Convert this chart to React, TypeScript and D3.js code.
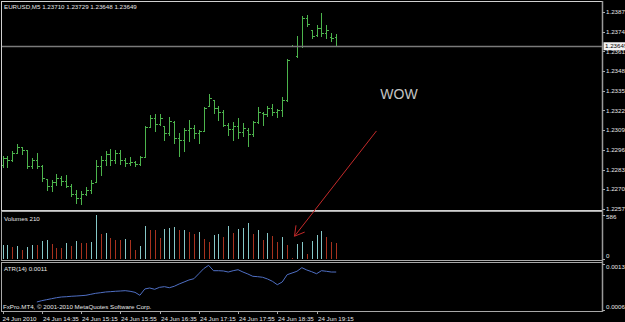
import React from "react";
import * as d3 from "d3";

const openP = [1.22865,1.22912,1.22898,1.22945,1.22984,1.22964,1.22859,1.22898,1.22859,1.22773,
 1.22727,1.22753,1.22780,1.22760,1.22727,1.22674,1.22648,1.22674,1.22700,1.22753,
 1.22859,1.22898,1.22938,1.22898,1.22945,1.22898,1.22879,1.22885,1.22872,1.22918,
 1.23116,1.23176,1.23136,1.23123,1.23077,1.23149,1.23044,1.23030,1.23096,1.23110,
 1.23077,1.23090,1.23255,1.23294,1.23242,1.23215,1.23129,1.23103,1.23123,1.23083,
 1.23096,1.23070,1.23149,1.23209,1.23202,1.23242,1.23215,1.23228,1.23294,1.23651,
 1.23585,1.23651,1.23836,1.23756,1.23723,1.23770,1.23737,1.23710,1.23710];
const highP = [1.22922,1.22925,1.22955,1.23007,1.22984,1.22964,1.22912,1.22945,1.22865,1.22776,
 1.22766,1.22809,1.22790,1.22799,1.22740,1.22700,1.22694,1.22717,1.22766,1.22898,
 1.22922,1.22961,1.22971,1.22964,1.22964,1.22912,1.22918,1.22889,1.22922,1.23123,
 1.23195,1.23205,1.23199,1.23123,1.23182,1.23153,1.23077,1.23110,1.23162,1.23129,
 1.23096,1.23248,1.23337,1.23294,1.23252,1.23228,1.23143,1.23149,1.23176,1.23143,
 1.23110,1.23156,1.23248,1.23212,1.23252,1.23268,1.23235,1.23311,1.23565,1.23654,
 1.23717,1.23846,1.23855,1.23756,1.23789,1.23869,1.23789,1.23737,1.23729];
const lowP = [1.22852,1.22852,1.22889,1.22945,1.22938,1.22846,1.22846,1.22846,1.22763,1.22700,
 1.22691,1.22733,1.22733,1.22717,1.22658,1.22615,1.22608,1.22667,1.22681,1.22753,
 1.22799,1.22865,1.22865,1.22879,1.22872,1.22856,1.22865,1.22856,1.22865,1.22918,
 1.23116,1.23087,1.23129,1.23030,1.23063,1.23011,1.22922,1.22955,1.23021,1.23044,
 1.23011,1.23087,1.23252,1.23209,1.23162,1.23120,1.23063,1.23030,1.23044,1.23054,
 1.22988,1.23054,1.23143,1.23129,1.23186,1.23195,1.23182,1.23186,1.23285,1.23648,
 1.23578,1.23644,1.23783,1.23704,1.23714,1.23714,1.23704,1.23681,1.23648];
const closeP = [1.22912,1.22898,1.22945,1.22984,1.22964,1.22859,1.22898,1.22859,1.22780,1.22727,
 1.22753,1.22780,1.22760,1.22727,1.22674,1.22648,1.22674,1.22700,1.22747,1.22859,
 1.22898,1.22938,1.22898,1.22945,1.22898,1.22879,1.22885,1.22872,1.22918,1.23116,
 1.23176,1.23136,1.23176,1.23077,1.23156,1.23044,1.23030,1.23096,1.23110,1.23077,
 1.23090,1.23242,1.23308,1.23242,1.23215,1.23129,1.23103,1.23123,1.23083,1.23110,
 1.23070,1.23149,1.23215,1.23202,1.23242,1.23215,1.23228,1.23294,1.23558,1.23651,
 1.23651,1.23836,1.23796,1.23717,1.23770,1.23737,1.23756,1.23704,1.23649];
const volumes = [177,180,154,166,118,154,181,178,231,245,
 200,145,136,204,168,231,213,208,218,586,
 336,344,276,254,250,268,254,109,163,440,
 384,378,281,404,413,426,381,390,354,326,
 358,258,227,313,326,290,435,344,404,410,
 480,336,390,245,344,308,218,290,177,5,
 200,222,55,230,322,371,290,222,210];
const atr: (number | null)[] = [null,null,null,null,null,null,null,
 0.000672,0.000692,0.000707,0.000722,0.000737,0.000748,0.000752,0.000759,0.000763,0.000768,
 0.000774,0.000789,0.000804,0.000813,0.000824,0.000829,0.000835,0.000839,0.000844,0.000835,
 0.000819,0.000774,0.000870,0.000885,0.000865,0.000895,0.000905,0.000889,0.000911,0.000946,
 0.000976,0.001007,0.001026,0.001102,0.001179,0.001230,0.001148,0.001148,0.001144,0.001128,
 0.001148,0.001163,0.001128,0.001098,0.001063,0.001057,0.001048,0.001022,0.000987,0.000935,
 0.000976,0.001087,0.001113,0.001139,0.001194,0.001159,0.001133,0.001102,0.001148,0.001139,
 0.001128,0.001128];
const priceTicks = [1.22575,1.22705,1.22835,1.22965,1.23095,1.23225,1.23355,1.23485,1.23615,1.23745,1.23875];
const timeLabels = ["24 Jun 2010","24 Jun 14:35","24 Jun 15:15","24 Jun 15:55","24 Jun 16:35","24 Jun 17:15","24 Jun 17:55","24 Jun 18:35","24 Jun 19:15"];
const timeLabelStep = 8;
const volumeTicks = [0, 586];
const volumeTickLabels = ["0", "586"];
const atrTicks = [0.00055, 0.00125];
const atrTickLabels = ["0.0006", "0.0013"];
const bidPrice = 1.23649;
const titleText = "EURUSD,M5  1.23710 1.23729 1.23648 1.23649";
const volumeTitle = "Volumes 210";
const atrTitle = "ATR(14) 0.0011";
const copyright = "FxPro.MT4, \u00a9 2001-2010 MetaQuotes Software Corp.";

const W = 625, H = 322;
const FONT = "'Liberation Sans', Arial, sans-serif";
const FS = 6.2;
const TXT = "#e6e6e6";
const BORDER = "#a8a8a8";

export default function App() {
  const n = openP.length;
  const x = d3.scaleLinear().domain([0, n - 1]).range([2.5, 336.2]);
  const yP = d3.scaleLinear().domain([1.22575, 1.23875]).range([209, 12]);
  const yV = d3.scaleLinear().domain([0, 586]).range([258.5, 215]);
  const yA = d3.scaleLinear().domain([0.00055, 0.00125]).range([310, 264]);
  const px = (i: number) => Math.round(x(i)) + 0.5;
  const r = (v: number) => Math.round(v) + 0.5;

  const atrLine = d3.line<number | null>()
    .defined((d) => d != null)
    .x((_, i) => x(i))
    .y((d) => yA(d as number));

  const tail: [number, number] = [x(76.2), yP(1.2309)];
  const tip: [number, number] = [x(59.5), yV(300)];
  const dx = tail[0] - tip[0], dy = tail[1] - tip[1];
  const len = Math.hypot(dx, dy);
  const ux = dx / len, uy = dy / len;
  const rot = (a: number) => [ux * Math.cos(a) - uy * Math.sin(a), ux * Math.sin(a) + uy * Math.cos(a)];
  const b1 = rot(Math.PI / 6), b2 = rot(-Math.PI / 6);
  const hl = 11;

  const volColor = (i: number) => (i === 0 || volumes[i] > volumes[i - 1] ? "#86c8c8" : "#a8321f");

  return (
    <div style={{ position: "fixed", left: 0, top: 0, width: W, height: H, background: "#000" }}>
      <svg width={W} height={H} style={{ display: "block" }} fontFamily={FONT}>
        <rect x={0} y={0} width={W} height={H} fill="#000" />
        <g shapeRendering="crispEdges" fill="none" stroke={BORDER}>
          <rect x={1.5} y={1.5} width={600.5} height={208.5} stroke="#d0d0d0" />
          <rect x={1.5} y={211.5} width={600.5} height={48.5} />
          <rect x={1.5} y={262.5} width={600.5} height={48.5} />
        </g>
        <line x1={602.5} x2={602.5} y1={1} y2={312} stroke="#9a9a9a" strokeWidth={1.5} />

        <g stroke="#4cb44c" strokeWidth={1} shapeRendering="crispEdges">
          {openP.map((o, i) => {
            const cx = px(i);
            return (
              <g key={i}>
                <line x1={cx} x2={cx} y1={Math.round(yP(highP[i]))} y2={Math.round(yP(lowP[i])) + 1} />
                <line x1={cx - 2} x2={cx} y1={r(yP(o))} y2={r(yP(o))} />
                <line x1={cx} x2={cx + 2} y1={r(yP(closeP[i]))} y2={r(yP(closeP[i]))} />
              </g>
            );
          })}
        </g>
        <line x1={2} x2={602} y1={r(yP(bidPrice))} y2={r(yP(bidPrice))} stroke="#7a7a7a" strokeWidth={1.5} />

        {priceTicks.map((p) => (
          <g key={p}>
            <line x1={602} x2={605} y1={r(yP(p))} y2={r(yP(p))} stroke={BORDER} />
            <text x={606} y={yP(p)} dy="0.35em" fontSize={FS} fill={TXT}>{p.toFixed(5)}</text>
          </g>
        ))}
        <rect x={603.5} y={yP(bidPrice) - 4} width={24} height={8} fill="#f2f2f2" />
        <text x={605} y={yP(bidPrice)} dy="0.35em" fontSize={FS} fill="#000">{bidPrice.toFixed(5)}</text>

        <g shapeRendering="crispEdges">
          {volumes.map((v, i) => (
            <line key={i} x1={px(i)} x2={px(i)} y1={yV(v)} y2={yV(0)} stroke={volColor(i)} strokeWidth={1} />
          ))}
        </g>
        {volumeTicks.map((t, k) => (
          <g key={t}>
            <line x1={602} x2={605} y1={r(yV(t))} y2={r(yV(t))} stroke={BORDER} />
            <text x={606} y={yV(t)} dy={k === 0 ? "-0.1em" : "0.7em"} fontSize={FS} fill={TXT}>{volumeTickLabels[k]}</text>
          </g>
        ))}

        <path d={atrLine(atr) || ""} fill="none" stroke="#4f6fc4" strokeWidth={1} />
        {atrTicks.map((t, k) => (
          <g key={t}>
            <line x1={602} x2={605} y1={r(yA(t))} y2={r(yA(t))} stroke={BORDER} />
            <text x={606} y={yA(t)} dy={k === 0 ? "-0.2em" : "0.8em"} fontSize={FS} fill={TXT}>{atrTickLabels[k]}</text>
          </g>
        ))}

        {timeLabels.map((lab, k) => {
          const xi = px(k * timeLabelStep);
          return (
            <g key={lab}>
              <line x1={xi} x2={xi} y1={311} y2={314} stroke={BORDER} />
              <text x={xi + (k === 0 ? -1 : 0.5)} y={320.5} fontSize={FS} fill={TXT}>{lab}</text>
            </g>
          );
        })}

        <text x={4} y={8.5} fontSize={FS} fill={TXT}>{titleText}</text>
        <text x={4} y={221} fontSize={FS} fill={TXT}>{volumeTitle}</text>
        <text x={4} y={270.5} fontSize={FS} fill={TXT}>{atrTitle}</text>
        <text x={3} y={308.5} fontSize={FS} fill={TXT}>{copyright}</text>

        <text x={x(77)} y={yP(1.2330)} fontSize={14} fill="#c4c4c4" fontFamily={FONT}>WOW</text>
        <g stroke="#c42a2a" strokeWidth={1} fill="none">
          <line x1={tail[0]} y1={tail[1]} x2={tip[0]} y2={tip[1]} />
          <line x1={tip[0]} y1={tip[1]} x2={tip[0] + b1[0] * hl} y2={tip[1] + b1[1] * hl} />
          <line x1={tip[0]} y1={tip[1]} x2={tip[0] + b2[0] * hl} y2={tip[1] + b2[1] * hl} />
        </g>
      </svg>
    </div>
  );
}
